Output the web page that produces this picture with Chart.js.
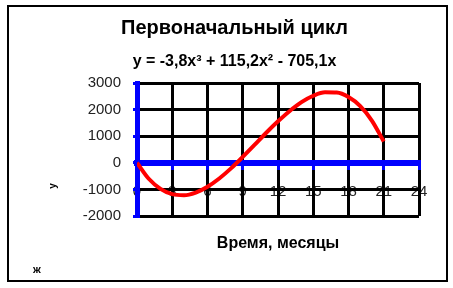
<!DOCTYPE html>
<html>
<head>
<meta charset="utf-8">
<script src="https://cdn.jsdelivr.net/npm/chart.js@4.4.0/dist/chart.umd.min.js"></script>
<style>
  html, body { margin: 0; padding: 0; background: #fff; }
  #wrap { width: 453px; height: 288px; }
</style>
</head>
<body>
<div id="wrap"><canvas id="cycleChart"></canvas></div>
<script>
// месяцы и значения
const months = [0, 1, 2, 3, 4, 5, 6, 7, 8, 9, 10, 11, 12, 13, 14, 15, 16, 17, 18, 19, 20, 21];
const values = [0, -600, -980, -1180, -1220, -1120, -900, -590, -210, 220, 670, 1130,
                1560, 1950, 2280, 2520, 2650, 2640, 2470, 2130, 1580, 800];
const xTicks = [0, 3, 6, 9, 12, 15, 18, 21, 24];
const yTicks = [-2000, -1000, 0, 1000, 2000, 3000];

const titleText = 'Первоначальный цикл';
const subtitleText = 'у = -3,8x³ + 115,2x² - 705,1x';
const xTitle = 'Время, месяцы';

const FONT = 'Liberation Sans, Arial, sans-serif';

// рамка вокруг всей диаграммы + мелкие подписи
const framePlugin = {
    id: 'frame',
    beforeDraw(chart) {
        const c = chart.ctx;
        c.save();
        c.fillStyle = '#fff';
        c.fillRect(0, 0, chart.width, chart.height);
        c.strokeStyle = '#000';
        c.lineWidth = 2;
        c.strokeRect(8, 6, 439, 275);
        c.restore();
    },
    afterDraw(chart) {
        const c = chart.ctx;
        c.save();
        c.fillStyle = '#000';
        c.font = 'bold 11px ' + FONT;
        c.textAlign = 'center';
        c.textBaseline = 'middle';
        c.fillText('ж', 37, 270);
        c.translate(53, 186);
        c.rotate(-Math.PI / 2);
        c.font = 'bold 10px ' + FONT;
        c.fillText('у', 0, 0);
        c.restore();
    }
};

const points = months.map((m, i) => ({ x: m, y: values[i] }));

new Chart(document.getElementById('cycleChart'), {
    type: 'line',
    data: {
        datasets: [{
            data: points,
            borderColor: '#ff0000',
            borderWidth: 4,
            pointRadius: 0,
            fill: false,
            cubicInterpolationMode: 'monotone'
        }]
    },
    options: {
        responsive: true,
        maintainAspectRatio: false,
        animation: false,
        layout: { padding: { left: 50, right: 34, top: 0, bottom: 0 } },
        plugins: {
            legend: { display: false },
            tooltip: { enabled: false },
            title: {
                display: true,
                text: titleText,
                color: '#000',
                font: { family: FONT, size: 20, weight: 'bold', lineHeight: 1.2 },
                padding: { top: 16, bottom: 8 }
            },
            subtitle: {
                display: true,
                text: subtitleText,
                color: '#000',
                font: { family: FONT, size: 16, weight: 'bold', lineHeight: 1.2 },
                padding: { top: 4.4, bottom: 11.4 }
            }
        },
        scales: {
            x: {
                type: 'linear',
                min: 0,
                max: 24,
                position: { y: 0 },
                afterBuildTicks: s => { s.ticks = xTicks.map(v => ({ value: v })); },
                ticks: {
                    color: '#222',
                    font: { family: FONT, size: 15 },
                    padding: 16,
                    maxRotation: 0,
                    autoSkip: false,
                    callback: v => String(v),
                    z: -2
                },
                grid: { color: '#000', lineWidth: 3, tickColor: '#0000ff', tickLength: 4, tickWidth: 3 },
                border: { color: '#0000ff', width: 6 }
            },
            x2: {
                type: 'linear',
                position: 'bottom',
                min: 0,
                max: 24,
                ticks: { display: false },
                grid: { display: false, drawTicks: false },
                border: { display: false },
                title: {
                    display: true,
                    text: xTitle,
                    color: '#000',
                    font: { family: FONT, size: 16, weight: 'bold', lineHeight: 1.2 },
                    padding: { top: 18.4, bottom: 34.4 }
                }
            },
            y: {
                min: -2000,
                max: 3000,
                afterBuildTicks: s => { s.ticks = yTicks.map(v => ({ value: v })); },
                afterFit: s => { s.width = 87; },
                ticks: {
                    color: '#222',
                    font: { family: FONT, size: 15 },
                    padding: 12,
                    callback: v => String(v),
                    z: -2
                },
                grid: { color: '#000', lineWidth: 3, tickColor: '#0000ff', tickLength: 4, tickWidth: 3 },
                border: { color: '#0000ff', width: 5 }
            }
        }
    },
    plugins: [framePlugin]
});
</script>
</body>
</html>
